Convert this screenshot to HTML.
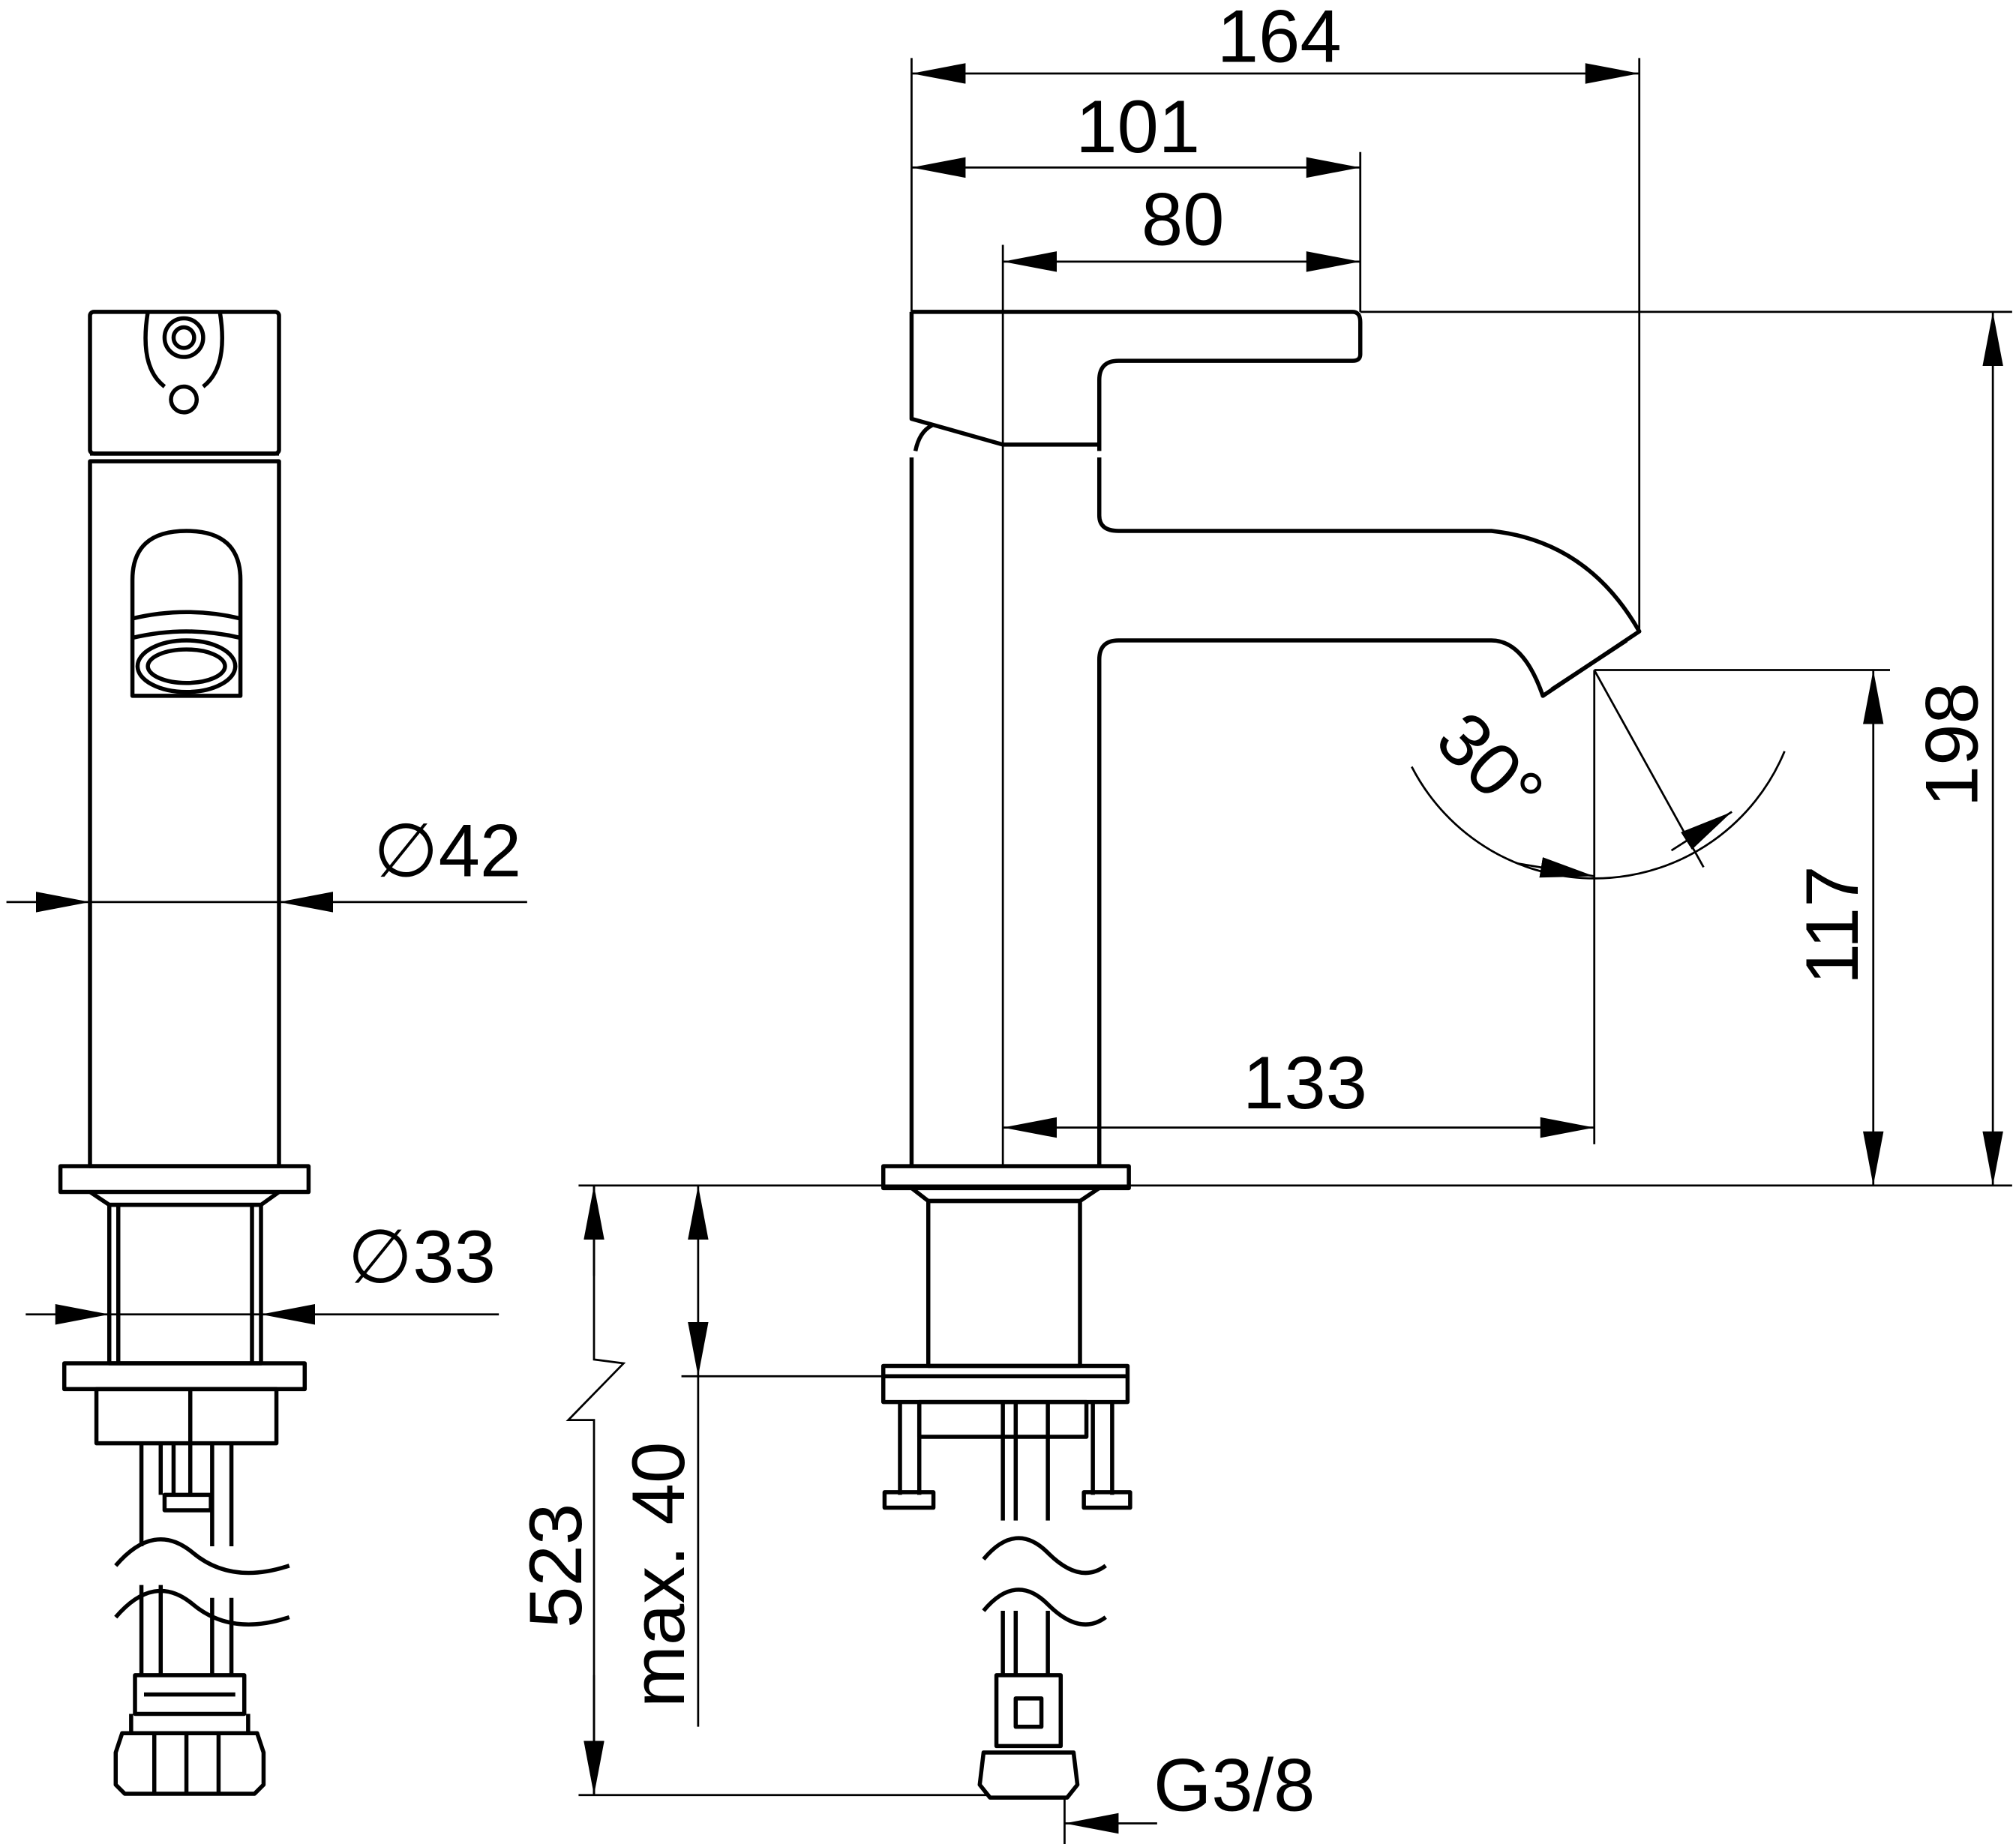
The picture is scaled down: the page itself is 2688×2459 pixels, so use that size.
<!DOCTYPE html>
<html><head><meta charset="utf-8"><style>
html,body{margin:0;padding:0;background:#fff;}
svg{display:block;}
text{font-family:"Liberation Sans",Arial,sans-serif;fill:#000;}
</style></head><body>
<svg width="2688" height="2459" viewBox="0 0 1568 1431" preserveAspectRatio="none" xmlns="http://www.w3.org/2000/svg">
<defs>
<marker id="a" markerUnits="userSpaceOnUse" markerWidth="44" markerHeight="18" refX="42" refY="8" orient="auto-start-reverse">
<path d="M0,0 L42,8 L0,16 Z" fill="#000"/></marker>
</defs>
<g fill="none" stroke="#000" stroke-width="3.2" stroke-linejoin="round">
<!-- LEFT VIEW -->
<rect x="70" y="242" width="147" height="110" rx="3"/>
<line x1="70" y1="352" x2="217" y2="352"/>
<circle cx="143" cy="262" r="15"/><circle cx="143" cy="262" r="8"/>
<circle cx="143" cy="310" r="10"/>
<path d="M115,242 Q108,285 128,300 M171,242 Q178,285 158,300"/>
<rect x="70" y="358" width="147" height="547"/>
<path d="M103,540 L103,450 Q103,412 145,412 Q187,412 187,450 L187,540 Z"/>
<path d="M103,480 Q145,470 187,480 M103,495 Q145,485 187,495"/>
<ellipse cx="145" cy="517" rx="38" ry="20"/>
<ellipse cx="145" cy="517" rx="30" ry="13"/>
<rect x="47" y="905" width="193" height="20"/>
<path d="M70,925 L85,935 L203,935 L217,925"/>
<rect x="85" y="935" width="118" height="123"/>
<line x1="92" y1="935" x2="92" y2="1058"/><line x1="196" y1="935" x2="196" y2="1058"/>
<rect x="50" y="1058" width="187" height="20"/>
<rect x="75" y="1078" width="140" height="42"/>
<path d="M110,1120 V1200 M125,1120 V1160 M135,1120 V1160 M165,1120 V1200 M180,1120 V1200 M148,1078 V1160"/>
<rect x="128" y="1160" width="36" height="12"/>
<path d="M110,1230 V1300 M125,1230 V1300 M165,1240 V1300 M180,1240 V1300"/>
<path d="M90,1215 Q120,1180 150,1205 Q180,1230 225,1215"/>
<path d="M90,1255 Q120,1220 150,1245 Q180,1270 225,1255"/>
<path d="M105,1300 H190 V1330 H105 Z M112,1315 H183"/>
<path d="M95,1345 H200 L205,1360 V1385 L198,1392 H97 L90,1385 V1360 Z"/>
<path d="M102,1330 V1345 M193,1330 V1345 M120,1345 V1392 M145,1345 V1392 M170,1345 V1392"/>
<!-- RIGHT VIEW -->
<path d="M709,242 H1052 Q1058,242 1058,250 V275 Q1058,280 1052,280 H870 Q855,280 855,295 V350"/>
<path d="M709,242 V325 L780,345 H855"/>
<path d="M712,350 Q715,335 725,330"/>
<path d="M709,355 V905"/>
<path d="M855,355 V400 Q855,412 870,412 H1160 Q1235,420 1275,490 L1200,540 Q1185,497 1160,497 H870 Q855,497 855,512 V905"/>
<line x1="1265" y1="497" x2="1207" y2="535"/>
<rect x="687" y="905" width="191" height="17"/>
<path d="M709,922 L722,932 H840 L855,922"/>
<rect x="722" y="932" width="118" height="128"/>
<rect x="687" y="1060" width="190" height="28"/>
<line x1="687" y1="1068" x2="877" y2="1068"/>
<rect x="715" y="1088" width="130" height="27"/>
<path d="M700,1088 V1160 M715,1088 V1160 M850,1088 V1160 M865,1088 V1160"/>
<rect x="688" y="1158" width="38" height="12"/><rect x="843" y="1158" width="36" height="12"/>
<path d="M780,1088 V1180 M790,1088 V1180 M815,1088 V1180"/>
<path d="M780,1250 V1300 M790,1250 V1300 M815,1250 V1300"/>
<path d="M765,1210 Q790,1180 815,1205 Q840,1230 860,1215"/>
<path d="M765,1250 Q790,1220 815,1245 Q840,1270 860,1255"/>
<path d="M775,1300 H825 V1355 H775 Z M790,1318 H810 V1340 H790 Z"/>
<path d="M765,1360 H835 L838,1385 L830,1395 H770 L762,1385 Z"/>
</g>
<g fill="none" stroke="#000" stroke-width="1.6">
<!-- left dims -->
<line x1="5" y1="700" x2="70" y2="700" marker-end="url(#a)"/>
<line x1="70" y1="700" x2="217" y2="700"/>
<line x1="410" y1="700" x2="217" y2="700" marker-end="url(#a)"/>
<line x1="20" y1="1020" x2="85" y2="1020" marker-end="url(#a)"/>
<line x1="85" y1="1020" x2="203" y2="1020"/>
<line x1="388" y1="1020" x2="203" y2="1020" marker-end="url(#a)"/>
<!-- top dims -->
<line x1="709" y1="45" x2="709" y2="242"/>
<line x1="1275" y1="45" x2="1275" y2="490"/>
<line x1="1058" y1="118" x2="1058" y2="242"/>
<line x1="780" y1="190" x2="780" y2="905"/>
<line x1="709" y1="57" x2="1275" y2="57" marker-start="url(#a)" marker-end="url(#a)"/>
<line x1="709" y1="130" x2="1058" y2="130" marker-start="url(#a)" marker-end="url(#a)"/>
<line x1="780" y1="203" x2="1058" y2="203" marker-start="url(#a)" marker-end="url(#a)"/>
<!-- right dims -->
<line x1="1058" y1="242" x2="1565" y2="242"/>
<line x1="450" y1="920" x2="1565" y2="920"/>
<line x1="1550" y1="242" x2="1550" y2="920" marker-start="url(#a)" marker-end="url(#a)"/>
<line x1="1240" y1="520" x2="1470" y2="520"/>
<line x1="1457" y1="520" x2="1457" y2="920" marker-start="url(#a)" marker-end="url(#a)"/>
<line x1="1240" y1="520" x2="1240" y2="888"/>
<line x1="780" y1="875" x2="1240" y2="875" marker-start="url(#a)" marker-end="url(#a)"/>
<path d="M1098,595 A160,160 0 0 0 1388,583"/>
<line x1="1180" y1="670" x2="1240" y2="680" marker-end="url(#a)"/>
<line x1="1300" y1="660" x2="1347" y2="630" marker-end="url(#a)"/>
<line x1="1240" y1="520" x2="1325" y2="673"/>
<!-- bottom dims -->
<path d="M462,920 V1055 L485,1058 L442,1102 L462,1102 V1393" />
<line x1="462" y1="920" x2="462" y2="990" marker-start="url(#a)"/>
<line x1="462" y1="1300" x2="462" y2="1393" marker-end="url(#a)"/>
<line x1="450" y1="1393" x2="770" y2="1393"/>
<line x1="530" y1="1068" x2="720" y2="1068"/>
<line x1="543" y1="920" x2="543" y2="1068" marker-start="url(#a)" marker-end="url(#a)"/>
<line x1="543" y1="1068" x2="543" y2="1340"/>
<line x1="828" y1="1395" x2="828" y2="1431"/>
<line x1="900" y1="1415" x2="828" y2="1415" marker-end="url(#a)"/>
</g>
<g font-size="58">
<text x="995" y="48" text-anchor="middle">164</text>
<text x="885" y="118" text-anchor="middle">101</text>
<text x="920" y="190" text-anchor="middle">80</text>
<text x="1015" y="860" text-anchor="middle">133</text>
<text x="348" y="680" text-anchor="middle">∅42</text>
<text x="328" y="995" text-anchor="middle">∅33</text>
<text x="960" y="1405" text-anchor="middle">G3/8</text>
<text transform="translate(1538,578) rotate(-90)" text-anchor="middle">198</text>
<text transform="translate(1445,718) rotate(-90)" text-anchor="middle">117</text>
<text transform="translate(452,1215) rotate(-90)" text-anchor="middle">523</text>
<text transform="translate(532,1222) rotate(-90)" text-anchor="middle">max. 40</text>
<text transform="translate(1145,608) rotate(45)" text-anchor="middle">30°</text>
</g>
</svg>
</body></html>
